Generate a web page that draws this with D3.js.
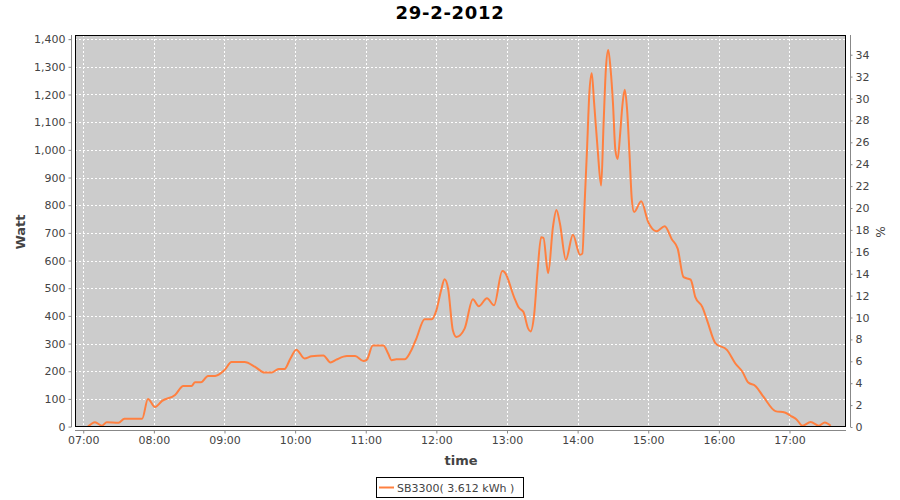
<!DOCTYPE html>
<html>
<head>
<meta charset="utf-8">
<script src="https://cdn.jsdelivr.net/npm/d3@7"></script>
<style>
html,body{margin:0;padding:0;background:#fff;}
svg{display:block;font-family:"DejaVu Sans",sans-serif;}
</style>
</head>
<body>
<svg id="chart" width="900" height="500"></svg>
<script>
const title = "29-2-2012";
const seriesName = "SB3300( 3.612 kWh )";
const times = ["07:04","07:10","07:16","07:20","07:30","07:35","07:50","07:55","08:01","08:07","08:18","08:25","08:32","08:35","08:40","08:46","08:52","09:00","09:06","09:17","09:26","09:34","09:40","09:46","09:51","09:56","10:01","10:08","10:14","10:24","10:30","10:35","10:44","10:51","10:58","11:01","11:06","11:15","11:19","11:22","11:26","11:33","11:38","11:43","11:50","11:56","12:00","12:04","12:07","12:10","12:14","12:17","12:24","12:31","12:36","12:43","12:49","12:56","12:58","13:06","13:10","13:14","13:18","13:20","13:23","13:26","13:29","13:31","13:34","13:35","13:39","13:42","13:45","13:50","13:56","14:02","14:04","14:06","14:08","14:10","14:12","14:14","14:17","14:20","14:22","14:24","14:26","14:28","14:30","14:32","14:34","14:36","14:38","14:40","14:42","14:44","14:46","14:48","14:54","15:00","15:07","15:14","15:20","15:25","15:30","15:36","15:40","15:46","15:50","15:57","16:07","16:14","16:20","16:25","16:31","16:38","16:48","16:56","17:01","17:06","17:11","17:18","17:25","17:30","17:35"];
const watts = [0,16,3,16,14,28,28,100,71,93,114,147,147,160,160,183,183,204,233,233,216,195,195,208,208,246,278,246,254,257,232,242,255,255,237,242,293,293,264,240,243,243,270,318,388,388,420,492,532,498,348,324,354,460,435,464,438,562,558,468,430,414,354,344,402,564,684,682,576,555,720,783,733,603,693,621,625,811,1003,1207,1277,1171,1003,871,1087,1292,1361,1292,1171,1003,967,1051,1159,1217,1147,991,823,775,814,739,706,724,677,643,540,531,468,432,384,302,276,228,198,159,147,107,56,51,39,26,3,17,3,15,3];
const xTickLabels = ["07:00","08:00","09:00","10:00","11:00","12:00","13:00","14:00","15:00","16:00","17:00"];
const leftTicks = [0,100,200,300,400,500,600,700,800,900,1000,1100,1200,1300,1400];
const rightTicks = [0,2,4,6,8,10,12,14,16,18,20,22,24,26,28,30,32,34];

const parse = d3.timeParse("%H:%M");
const data = times.map((t,i)=>({t:parse(t), w:watts[i]}));

const svg = d3.select("#chart");
const P = {l:75, r:846, t:35, b:427};

const x = d3.scaleTime().domain([parse("06:53"), parse("17:48")]).range([P.l, P.r]);
const y = d3.scaleLinear().domain([-1.5, 1415]).range([P.b, P.t]);
const y2 = d3.scaleLinear().domain([0, 35.8]).range([P.b, P.t]);
const xTicks = xTickLabels.map(parse);

// title
svg.append("text").attr("x",450).attr("y",19).attr("text-anchor","middle")
  .attr("font-size","18px").attr("font-weight","bold").attr("letter-spacing","0.7px")
  .attr("fill","#000").text(title);

// plot background
svg.append("rect").attr("x",P.l).attr("y",P.t).attr("width",P.r-P.l).attr("height",P.b-P.t)
  .attr("fill","#cccccc");

// gridlines
const grid = svg.append("g").attr("stroke","#fff").attr("stroke-width",1).attr("stroke-dasharray","2,2");
grid.selectAll("line.v").data(xTicks).join("line")
  .attr("x1",d=>Math.round(x(d))+0.5).attr("x2",d=>Math.round(x(d))+0.5)
  .attr("y1",P.t).attr("y2",P.b);
grid.selectAll("line.h").data(leftTicks).join("line")
  .attr("x1",P.l).attr("x2",P.r)
  .attr("y1",d=>Math.round(y(d))+0.5).attr("y2",d=>Math.round(y(d))+0.5);

// clip
svg.append("clipPath").attr("id","clip").append("rect")
  .attr("x",P.l).attr("y",P.t).attr("width",P.r-P.l).attr("height",P.b-P.t);

// line
const line = d3.line().x(d=>x(d.t)).y(d=>y(d.w)).curve(d3.curveMonotoneX);
svg.append("path").datum(data).attr("clip-path","url(#clip)")
  .attr("fill","none").attr("stroke","#ff8040").attr("stroke-width",2)
  .attr("stroke-linejoin","round").attr("d",line);

// plot outline
svg.append("rect").attr("x",P.l+0.5).attr("y",P.t+0.5).attr("width",P.r-P.l-1).attr("height",P.b-P.t-1)
  .attr("fill","none").attr("stroke","#000").attr("stroke-width",1);

function styleAxis(g){
  g.selectAll(".domain").attr("stroke","#888");
  g.selectAll(".tick line").attr("stroke","#888");
  g.selectAll(".tick text").attr("fill","#444").attr("font-size","11px").attr("font-family","DejaVu Sans, sans-serif");
}

// left axis
const gl = svg.append("g").attr("transform","translate(71.5,0)")
  .call(d3.axisLeft(y).tickValues(leftTicks).tickFormat(d3.format(",")).tickSizeInner(3).tickSizeOuter(0).tickPadding(3));
styleAxis(gl);
gl.select(".domain").attr("d",`M0,${P.t}V${P.b}`);

// right axis
const gr = svg.append("g").attr("transform","translate(850.5,0)")
  .call(d3.axisRight(y2).tickValues(rightTicks).tickFormat(d3.format("d")).tickSizeInner(2).tickSizeOuter(0).tickPadding(3));
styleAxis(gr);
gr.select(".domain").attr("d",`M0,${P.t}V${P.b}`);

// bottom axis
const gb = svg.append("g").attr("transform","translate(0,430.5)")
  .call(d3.axisBottom(x).tickValues(xTicks).tickFormat(d3.timeFormat("%H:%M")).tickSizeInner(3).tickSizeOuter(0).tickPadding(3));
styleAxis(gb);
gb.select(".domain").attr("d",`M${P.l},0H${P.r}`);

// axis labels
svg.append("text").attr("transform","translate(25,232) rotate(-90)").attr("text-anchor","middle")
  .attr("font-size","13px").attr("font-weight","bold").attr("fill","#444").text("Watt");
svg.append("text").attr("transform","translate(876,232) rotate(90)").attr("text-anchor","middle")
  .attr("font-size","12px").attr("fill","#444").text("%");
svg.append("text").attr("x",461).attr("y",465).attr("text-anchor","middle")
  .attr("font-size","13px").attr("font-weight","bold").attr("fill","#444").text("time");

// legend
const lg = svg.append("g");
lg.append("rect").attr("x",376.5).attr("y",477.5).attr("width",147).attr("height",20)
  .attr("fill","#fff").attr("stroke","#000").attr("stroke-width",1);
lg.append("line").attr("x1",379).attr("x2",394).attr("y1",487.5).attr("y2",487.5)
  .attr("stroke","#ff8040").attr("stroke-width",2);
lg.append("text").attr("x",397).attr("y",492).attr("font-size","11px").attr("fill","#444").text(seriesName);
</script>
</body>
</html>
